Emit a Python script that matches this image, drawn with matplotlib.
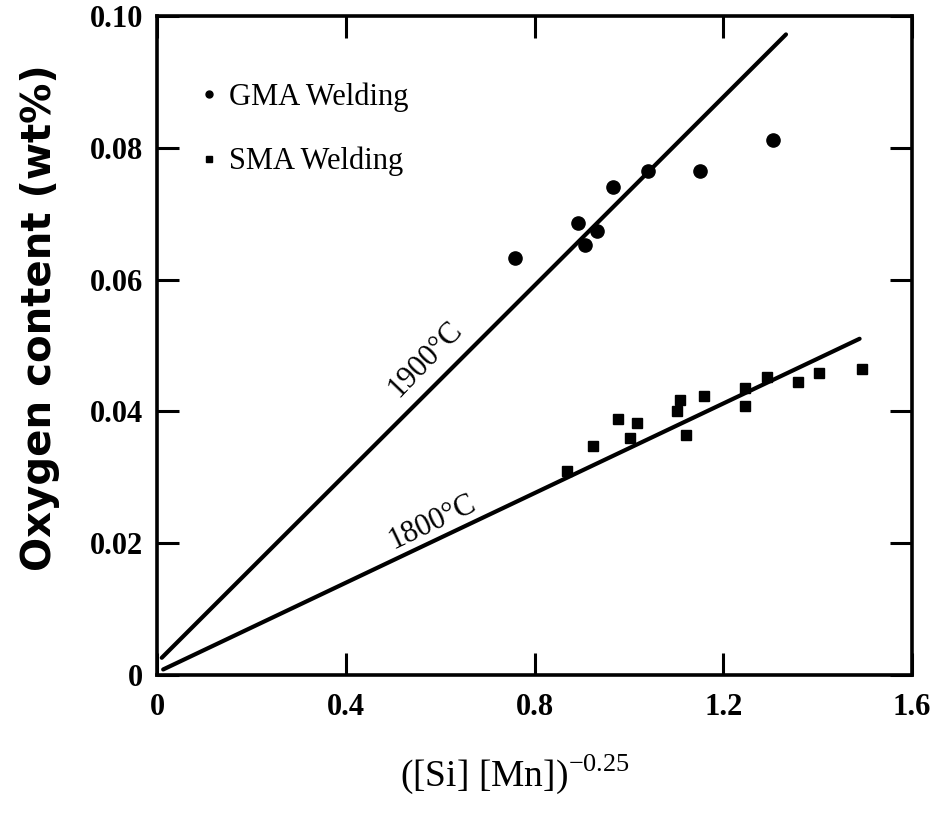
import numpy as np
import matplotlib.pyplot as plt
from matplotlib.lines import Line2D

plt.rcParams['mathtext.fontset'] = 'custom'
plt.rcParams['mathtext.rm'] = 'Liberation Serif'

# GMA welds (circles)
gma_x = [0.758, 0.892, 0.907, 0.932, 0.966, 1.040, 1.150, 1.305]
gma_o = [0.0633, 0.0686, 0.0652, 0.0674, 0.0741, 0.0765, 0.0765, 0.0812]

# SMA welds (squares)
sma_x = [0.869, 0.924, 0.977, 1.002, 1.017, 1.102, 1.108, 1.121, 1.159,
         1.246, 1.246, 1.292, 1.358, 1.403, 1.494]
sma_o = [0.0309, 0.0347, 0.0389, 0.0360, 0.0382, 0.0400, 0.0417, 0.0364,
         0.0424, 0.0435, 0.0408, 0.0452, 0.0444, 0.0459, 0.0465]

# equilibrium lines: (x start, x end, intercept, slope)
line_1900 = (0.01, 1.333, 0.0019, 0.0715)
line_1800 = (0.013, 1.489, 0.0004, 0.0340)

xticks = [0, 0.4, 0.8, 1.2, 1.6]
xlabels = ['0', '0.4', '0.8', '1.2', '1.6']
yticks = [0, 0.02, 0.04, 0.06, 0.08, 0.10]
ylabels = ['0', '0.02', '0.04', '0.06', '0.08', '0.10']

fig = plt.figure(figsize=(9.32, 8.18), dpi=100)
ax = fig.add_axes([0.1685, 0.1748, 0.81, 0.8056])

for x0, x1, b, m in (line_1900, line_1800):
    xs = np.array([x0, x1])
    ax.plot(xs, b + m * xs, color='black', lw=3, solid_capstyle='round')

ax.plot(gma_x, gma_o, 'o', color='black', ms=9.5)
ax.plot(sma_x, sma_o, 's', color='black', ms=7.5)

ax.text(0.568, 0.0479, '1900°C', rotation=46, ha='center', va='center',
        family='Liberation Serif', fontsize=22)
ax.text(0.583, 0.0232, '1800°C', rotation=25.5, ha='center', va='center',
        family='Liberation Serif', fontsize=22)

handles = [Line2D([], [], ls='none', marker='o', color='black', ms=5),
           Line2D([], [], ls='none', marker='s', color='black', ms=5)]
ax.legend(handles, ['GMA Welding', 'SMA Welding'], loc='upper left',
          bbox_to_anchor=(0.045, 0.918), frameon=False, handlelength=0.4,
          handletextpad=0.45, labelspacing=1.15, borderaxespad=0,
          prop={'family': 'Liberation Serif', 'size': 22})

ax.set_xlim(0, 1.6)
ax.set_ylim(0, 0.10)
ax.set_xticks(xticks)
ax.set_xticklabels(xlabels)
ax.set_yticks(yticks)
ax.set_yticklabels(ylabels)
for lab in ax.get_xticklabels() + ax.get_yticklabels():
    lab.set_family('Liberation Serif')
    lab.set_fontweight('bold')
    lab.set_fontsize(22)

ax.tick_params(direction='in', length=16, width=2.2, top=True, right=True,
               pad=10)
ax.tick_params(axis='x', pad=13)
for sp in ax.spines.values():
    sp.set_linewidth(2.6)

ax.set_xlabel(r'([Si] [Mn])$^{\mathrm{-0.25}}$', family='Liberation Serif',
              fontsize=27)
ax.xaxis.set_label_coords(0.474, -0.117)
ax.set_ylabel('Oxygen content (wt%)', family='DejaVu Sans',
              fontweight='bold', fontsize=29)
ax.yaxis.set_label_coords(-0.128, 0.543)

fig.savefig('out.png', dpi=100)
